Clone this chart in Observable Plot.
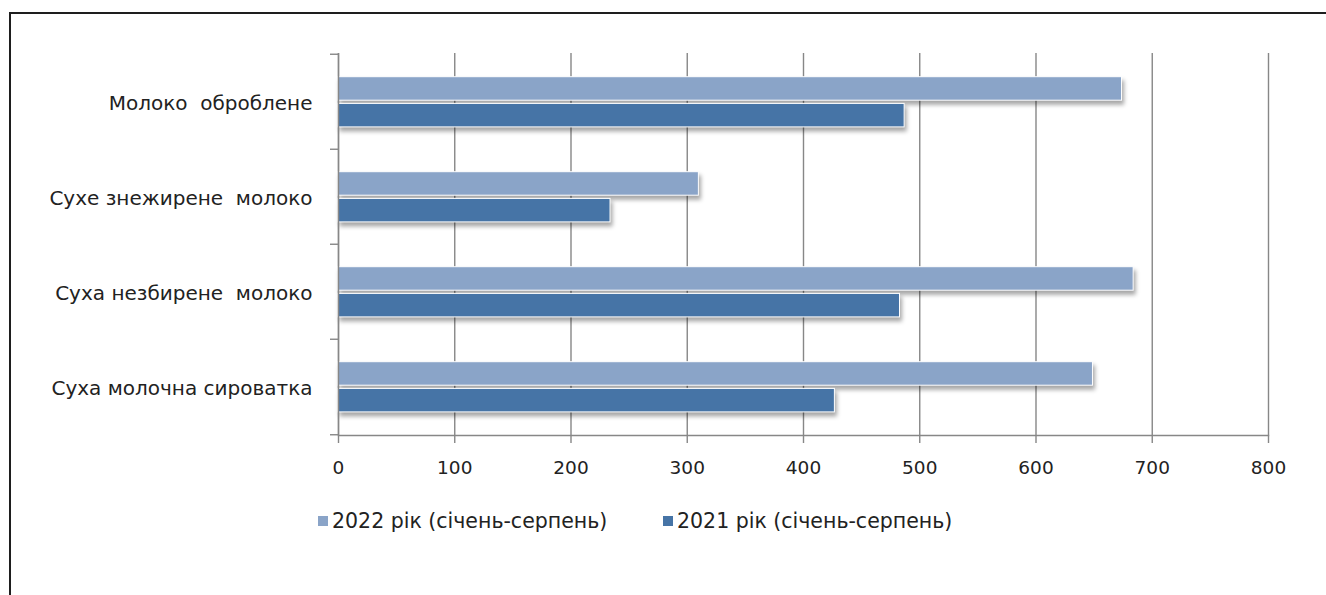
<!DOCTYPE html>
<html>
<head>
<meta charset="utf-8">
<script src="https://cdn.jsdelivr.net/npm/d3@7"></script>
<script src="https://cdn.jsdelivr.net/npm/@observablehq/plot@0.6"></script>
<style>
  html, body { margin: 0; padding: 0; background: #fff; }
  body { width: 1326px; height: 595px; position: relative; overflow: hidden; font-family: "DejaVu Sans", sans-serif; }
  #frame { position: absolute; left: 9px; top: 12px; width: 1330px; height: 600px; border-left: 2.5px solid #1e1e1e; border-top: 2.5px solid #1e1e1e; box-sizing: border-box; }
  #chart { position: absolute; left: 0; top: 0; }
  #legend { position: absolute; top: 508px; left: 0; width: 1326px; height: 26px; font-size: 20.5px; color: #222; }
  .item { position: absolute; top: 0; display: flex; align-items: center; height: 26px; white-space: nowrap; }
  .sw { width: 10px; height: 10px; margin-right: 4px; display: inline-block; }
</style>
</head>
<body>
<div id="frame"></div>
<div id="chart"></div>
<div id="legend"></div>
<script>
const categories = ["Молоко  оброблене", "Сухе знежирене  молоко", "Суха незбирене  молоко", "Суха молочна сироватка"];
const series = ["2022 рік (січень-серпень)", "2021 рік (січень-серпень)"];
const values2022 = [674, 310, 684, 649];
const values2021 = [487, 234, 483, 427];
const xTicks = [0, 100, 200, 300, 400, 500, 600, 700, 800];
const colors = ["#8aa4c8", "#4674a6"];

const d2022 = categories.map((c, i) => ({category: c, value: values2022[i]}));
const d2021 = categories.map((c, i) => ({category: c, value: values2021[i]}));

const H = 490, mTop = 53, mBottom = 55;
const band = (H - mTop - mBottom) / categories.length;

const plot = Plot.plot({
  width: 1326,
  height: H,
  marginLeft: 338,
  marginRight: 58,
  marginTop: mTop,
  marginBottom: mBottom,
  style: {fontFamily: "DejaVu Sans, sans-serif", fontSize: "16px", color: "#222", background: "transparent"},
  x: {domain: [0, 800], ticks: xTicks, label: null},
  y: {domain: categories, padding: 0, label: null},
  marks: [
    Plot.ruleX(xTicks, {stroke: "#878787", strokeWidth: 1.4}),
    Plot.barX(d2022, {x: "value", y: "category", fill: colors[0], stroke: "#fff", strokeWidth: 1, insetTop: 22.7, insetBottom: band - 46.7}),
    Plot.barX(d2021, {x: "value", y: "category", fill: colors[1], stroke: "#fff", strokeWidth: 1, insetTop: 49.4, insetBottom: band - 73.4}),
    Plot.ruleX([0], {stroke: "#878787", strokeWidth: 1.4}),
    Plot.frame({anchor: "bottom", stroke: "#878787", strokeWidth: 1.4}),
    Plot.axisX({ticks: xTicks, tickSize: 8, tickPadding: 17, stroke: "#878787", strokeWidth: 1.4, fontSize: 18.5, fill: "#222", tickFormat: d => String(d), label: null}),
    Plot.axisY({tickSize: 0, tickPadding: 26, fontSize: 20, fill: "#222", dy: 2, label: null}),
    Plot.axisY({tickSize: 8, tickFormat: () => "", dy: -band / 2, stroke: "#878787", strokeWidth: 1.4, label: null}),
    Plot.axisY({ticks: [categories[categories.length - 1]], tickSize: 8, tickFormat: () => "", dy: band / 2, stroke: "#878787", strokeWidth: 1.4, label: null})
  ]
});
document.getElementById("chart").appendChild(plot);

d3.select(plot).selectAll("g[aria-label='bar']")
  .style("filter", "drop-shadow(2px 4px 2px rgba(0,0,0,0.35))");

const legend = d3.select("#legend");
const lefts = [318, 663];
series.forEach((s, i) => {
  const it = legend.append("div").attr("class", "item").style("left", lefts[i] + "px");
  it.append("span").attr("class", "sw").style("background", colors[i]);
  it.append("span").text(s);
});
</script>
</body>
</html>
